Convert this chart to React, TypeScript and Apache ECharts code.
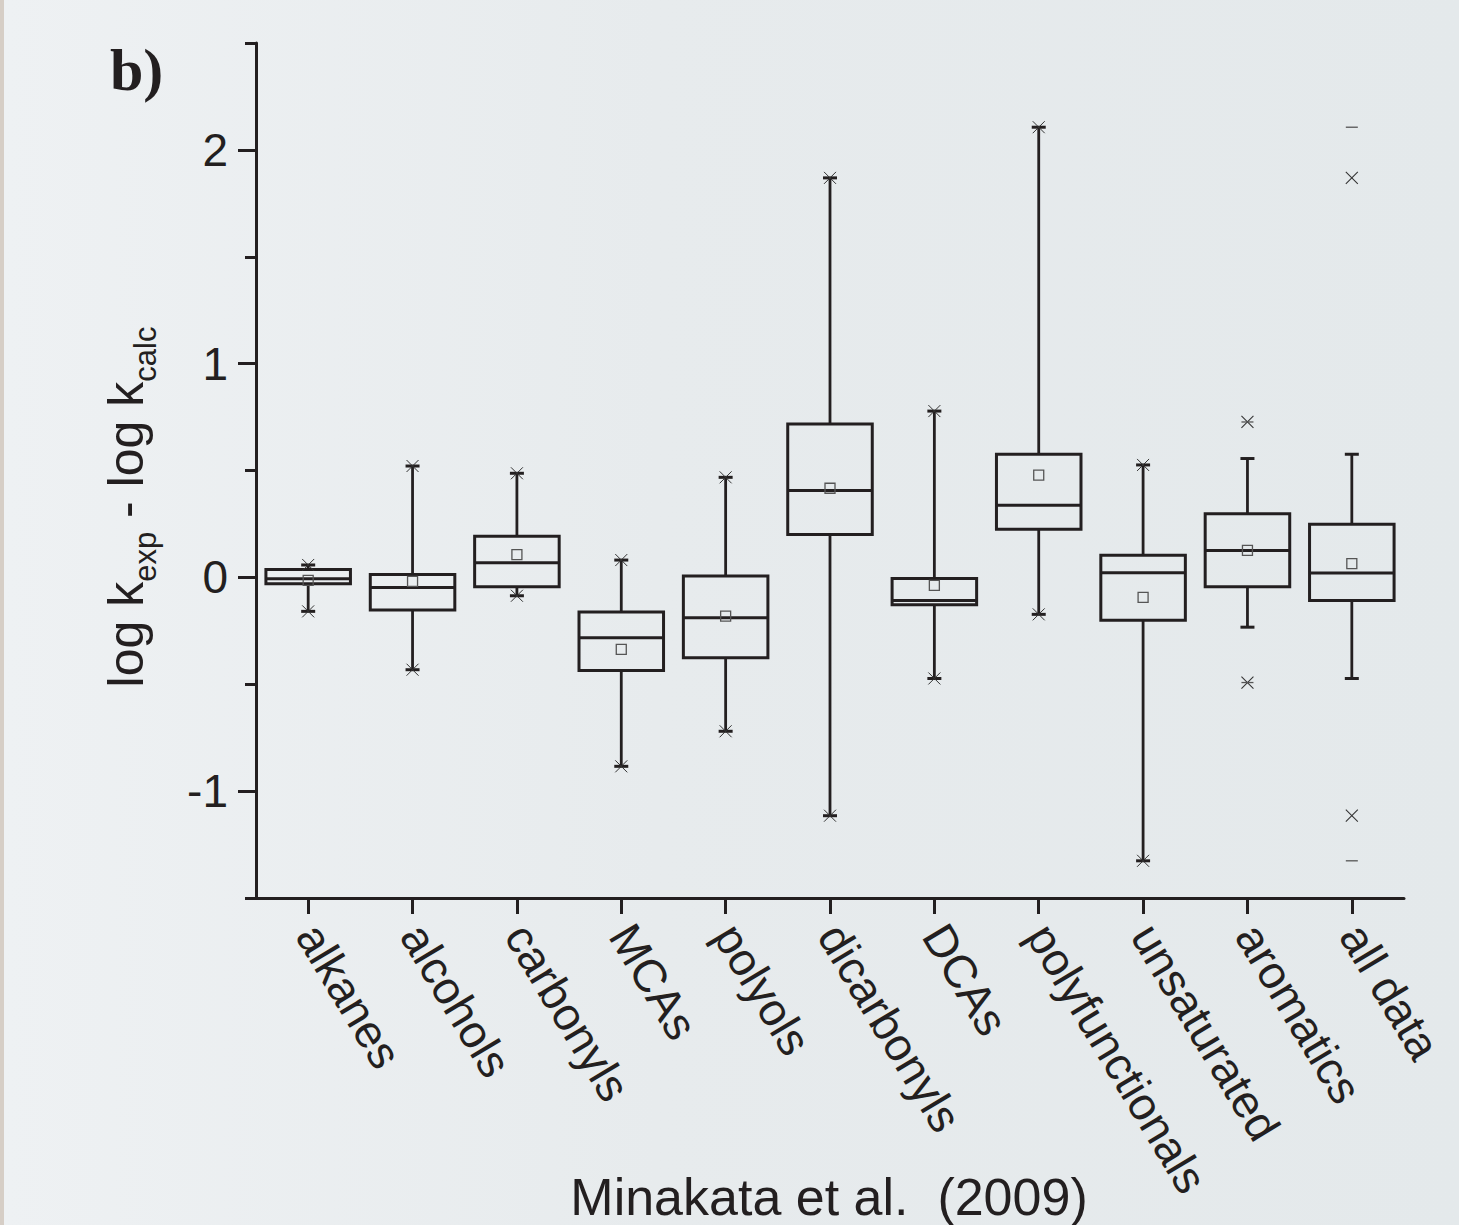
import React, { useEffect, useRef } from 'react';
import * as echarts from 'echarts';

const categories = ['alkanes', 'alcohols', 'carbonyls', 'MCAs', 'polyols', 'dicarbonyls', 'DCAs', 'polyfunctionals', 'unsaturated', 'aromatics', 'all data'];
const whiskerLow = [-0.159, -0.432, -0.086, -0.884, -0.72, -1.115, -0.473, -0.173, -1.326, -0.233, -0.473];
const q1 = [-0.03, -0.153, -0.044, -0.436, -0.376, 0.201, -0.128, 0.225, -0.2, -0.044, -0.108];
const median = [-0.006, -0.047, 0.069, -0.283, -0.189, 0.407, -0.108, 0.337, 0.022, 0.126, 0.02];
const q3 = [0.037, 0.014, 0.192, -0.162, 0.006, 0.717, -0.005, 0.576, 0.104, 0.298, 0.248];
const whiskerHigh = [0.058, 0.521, 0.487, 0.081, 0.468, 1.869, 0.778, 2.106, 0.526, 0.556, 0.576];
const mean = [-0.014, -0.019, 0.106, -0.337, -0.181, 0.417, -0.037, 0.478, -0.094, 0.126, 0.064];
// 1 = whisker ends carry the x marker (1%/99% coincide with whisker ends)
const endCross = [1, 1, 1, 1, 1, 1, 1, 1, 1, 0, 0];
// separate x markers (1% / 99%)
const crossCategory = [9, 9, 10, 10];
const crossValue = [0.727, -0.492, 1.869, -1.115];
// separate min / max dashes
const dashCategory = [9, 9, 10, 10];
const dashValue = [0.727, -0.492, 2.106, -1.326];

const yMajorTicks = [-1, 0, 1, 2];
const yMinorTicks = [-1.5, -0.5, 0.5, 1.5, 2.5];

const INK = '#231f20';
const FONT = '"Liberation Sans", Arial, Helvetica, sans-serif';

export default function App() {
  const ref = useRef<HTMLDivElement>(null);
  useEffect(() => {
    const chart = echarts.init(ref.current as HTMLDivElement, null, { renderer: 'svg' });
    const boxData = categories.map((_, i) => [i, whiskerLow[i], q1[i], median[i], q3[i], whiskerHigh[i], mean[i], endCross[i]]);
    const markData: number[][] = [];
    crossCategory.forEach((c, i) => markData.push([c, crossValue[i], 0]));
    dashCategory.forEach((c, i) => markData.push([c, dashValue[i], 1]));

    const crossEls = (x: number, y: number, s: number, w: number, color: string) => [
      { type: 'line', shape: { x1: x - s, y1: y - s, x2: x + s, y2: y + s }, style: { stroke: color, lineWidth: w } },
      { type: 'line', shape: { x1: x - s, y1: y + s, x2: x + s, y2: y - s }, style: { stroke: color, lineWidth: w } },
    ];

    chart.setOption({
      animation: false,
      backgroundColor: 'transparent',
      grid: { left: 256, right: 55, top: 43, bottom: 327, containLabel: false },
      xAxis: {
        type: 'category',
        data: categories,
        boundaryGap: true,
        axisLine: { show: true, onZero: false, lineStyle: { color: INK, width: 3 } },
        axisTick: { show: true, alignWithLabel: true, length: 16, lineStyle: { color: INK, width: 3 } },
        axisLabel: { interval: 0, rotate: -59, fontSize: 46, color: INK, fontFamily: FONT, margin: 30 },
        splitLine: { show: false },
      },
      yAxis: [
        {
          type: 'value',
          min: -1.5,
          max: 2.5,
          interval: 0.5,
          axisLine: { show: true, onZero: false, lineStyle: { color: INK, width: 3 } },
          axisTick: { show: true, customValues: yMajorTicks, length: 18, lineStyle: { color: INK, width: 3 } },
          axisLabel: { customValues: yMajorTicks, fontSize: 46, color: INK, fontFamily: FONT, margin: 28 },
          splitLine: { show: false },
        },
        {
          type: 'value',
          min: -1.5,
          max: 2.5,
          interval: 0.5,
          position: 'left',
          axisLine: { show: false, onZero: false },
          axisTick: { show: true, customValues: yMinorTicks, length: 11, lineStyle: { color: INK, width: 3 } },
          axisLabel: { show: false },
          splitLine: { show: false },
        },
      ],
      graphic: [
        {
          type: 'text',
          x: 110,
          y: 70,
          style: { text: 'b)', font: 'bold 60px "Liberation Serif", "Times New Roman", serif', fill: INK, textVerticalAlign: 'middle', textAlign: 'left' },
        },
        {
          type: 'text',
          x: 829,
          y: 1197,
          style: { text: 'Minakata et al.  (2009)', font: `52px ${FONT}`, fill: INK, textAlign: 'center', textVerticalAlign: 'middle' },
        },
        {
          type: 'text',
          x: 126,
          y: 507,
          rotation: Math.PI / 2,
          style: {
            text: '{m|log k}{s|exp}{m| - log k}{s|calc}',
            fill: INK,
            textAlign: 'center',
            textVerticalAlign: 'middle',
            rich: {
              m: { fontSize: 50, fontFamily: FONT, lineHeight: 70, fill: INK, color: INK },
              s: { fontSize: 31, fontFamily: FONT, lineHeight: 10, verticalAlign: 'bottom', fill: INK, color: INK },
            },
          },
        },
      ],
      series: [
        {
          type: 'custom',
          xAxisIndex: 0,
          yAxisIndex: 0,
          clip: false,
          encode: { x: 0, y: [1, 2, 3, 4, 5] },
          data: boxData,
          renderItem: (params: any, api: any) => {
            const i = api.value(0);
            const bw = api.size([1, 0])[0] * 0.81;
            const [x, yLow] = api.coord([i, api.value(1)]);
            const yQ1 = api.coord([i, api.value(2)])[1];
            const yMed = api.coord([i, api.value(3)])[1];
            const yQ3 = api.coord([i, api.value(4)])[1];
            const yHigh = api.coord([i, api.value(5)])[1];
            const yMean = api.coord([i, api.value(6)])[1];
            const hasCross = api.value(7) === 1;
            const cap = 7;
            const children: any[] = [
              { type: 'line', shape: { x1: x, y1: yQ3, x2: x, y2: yHigh }, style: { stroke: INK, lineWidth: 2.8 } },
              { type: 'line', shape: { x1: x, y1: yQ1, x2: x, y2: yLow }, style: { stroke: INK, lineWidth: 2.8 } },
              { type: 'line', shape: { x1: x - cap, y1: yHigh, x2: x + cap, y2: yHigh }, style: { stroke: INK, lineWidth: 3 } },
              { type: 'line', shape: { x1: x - cap, y1: yLow, x2: x + cap, y2: yLow }, style: { stroke: INK, lineWidth: 3 } },
              { type: 'rect', shape: { x: x - bw / 2, y: yQ3, width: bw, height: yQ1 - yQ3 }, style: { fill: 'none', stroke: INK, lineWidth: 3 } },
              { type: 'line', shape: { x1: x - bw / 2, y1: yMed, x2: x + bw / 2, y2: yMed }, style: { stroke: INK, lineWidth: 3 } },
              { type: 'rect', shape: { x: x - 5, y: yMean - 5, width: 10, height: 10 }, style: { fill: 'none', stroke: '#555', lineWidth: 1.3 } },
            ];
            if (hasCross) {
              children.push(...crossEls(x, yHigh, 6, 1, '#333'));
              children.push(...crossEls(x, yLow, 6, 1, '#333'));
            }
            return { type: 'group', children };
          },
        },
        {
          type: 'custom',
          xAxisIndex: 0,
          yAxisIndex: 0,
          clip: false,
          encode: { x: 0, y: 1 },
          data: markData,
          renderItem: (params: any, api: any) => {
            const [x, y] = api.coord([api.value(0), api.value(1)]);
            const kind = api.value(2);
            if (kind === 0) {
              return { type: 'group', children: crossEls(x, y, 6, 1.1, '#333') };
            }
            return { type: 'line', shape: { x1: x - 6, y1: y, x2: x + 6, y2: y }, style: { stroke: '#555', lineWidth: 1.3 } };
          },
        },
      ],
    });
    return () => chart.dispose();
  }, []);
  return (
    <div
      style={{
        position: 'absolute',
        left: 0,
        top: 0,
        width: 1459,
        height: 1225,
        overflow: 'hidden',
        background: 'linear-gradient(to right, #d6cec6 0px, #d6cec6 4px, #eef1f3 4px, #e7ebed 45%, #e4e9eb 100%)',
      }}
    >
      <div ref={ref} style={{ width: 1459, height: 1225 }} />
    </div>
  );
}
